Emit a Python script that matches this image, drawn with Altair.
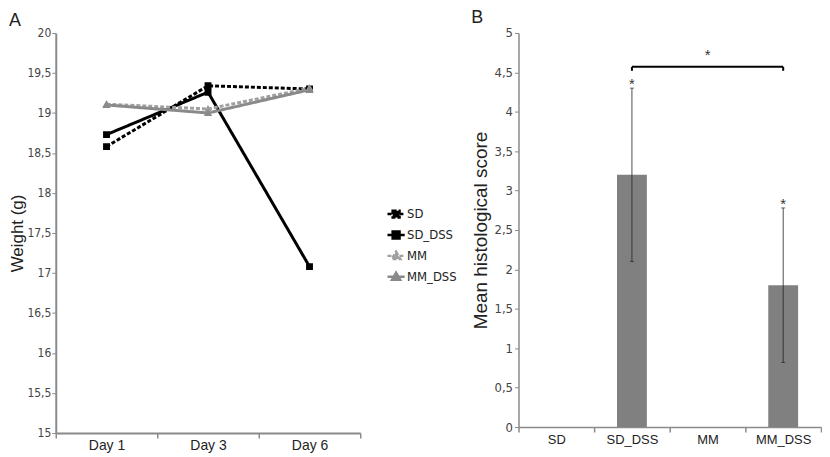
import altair as alt
import pandas as pd

# ---------------- data ----------------
days = ["Day 1", "Day 3", "Day 6"]
series_names = ["SD", "SD_DSS", "MM", "MM_DSS"]
sd = [18.58, 19.34, 19.30]
sd_dss = [18.73, 19.26, 17.08]
mm = [19.11, 19.05, 19.31]
mm_dss = [19.10, 19.00, 19.29]

groups = ["SD", "SD_DSS", "MM", "MM_DSS"]
scores = [0, 3.2, 0, 1.8]
err_low = [None, 2.1, None, 0.82]
err_high = [None, 4.3, None, 2.78]

bracket_pair = ["SD_DSS", "MM_DSS"]
bracket_mid = "MM"
bracket_level = 4.57
bracket_tip = 4.52
bracket_star = 4.72

NARROW = "Liberation Sans Narrow, DejaVu Sans Condensed, Liberation Sans, Arial, sans-serif"
SANS = "Liberation Sans, Arial, sans-serif"
AXIS_GRAY = "#8a8a8a"
COMMA_LABEL = "replace(format(datum.value, '~g'), '.', ',')"

# ---------------- left panel ----------------
rows = []
for name, vals in zip(series_names, [sd, sd_dss, mm, mm_dss]):
    for d, v in zip(days, vals):
        rows.append({"day": d, "series": name, "weight": v})
wdf = pd.DataFrame(rows)

# marker symbols: a zero-area line stroke (only visible in the stroked legend) + square / triangle
SQ_PATH = "M-1,0H1M-0.4,-0.4H0.4V0.4H-0.4Z"
TRI_PATH = "M-1,0H1M0,-0.48L0.48,0.36H-0.48Z"

color_scale = alt.Scale(domain=series_names, range=["#000000", "#000000", "#a0a0a0", "#8a8a8a"])
dash_scale = alt.Scale(domain=series_names, range=[[4, 2], [1, 0], [4, 2], [1, 0]])
shape_scale = alt.Scale(domain=series_names, range=[SQ_PATH, SQ_PATH, TRI_PATH, TRI_PATH])

legend = alt.Legend(
    title=None, orient="none", legendX=332, legendY=172,
    symbolSize=300, symbolStrokeWidth=2.5, labelFont=NARROW, labelFontSize=13,
    labelColor="#222", labelOffset=1,
)

x_left = alt.X("day:N", sort=days, title=None,
               scale=alt.Scale(type="band", domain=days, paddingInner=0, paddingOuter=0),
               axis=alt.Axis(tickBand="extent", labelAngle=0, labelFont=SANS, labelFontSize=14,
                             labelColor="#222", domainColor=AXIS_GRAY, domainWidth=2,
                             tickColor=AXIS_GRAY, tickWidth=1.5, tickSize=5, labelPadding=1))
y_left = alt.Y("weight:Q", title="Weight (g)",
               scale=alt.Scale(domain=[15, 20], nice=False, zero=False),
               axis=alt.Axis(values=[15 + 0.5 * i for i in range(11)], grid=False,
                             labelExpr=COMMA_LABEL,
                             labelFont=NARROW, labelFontSize=12, labelColor="#444",
                             domainColor=AXIS_GRAY, domainWidth=2, tickColor=AXIS_GRAY,
                             tickSize=4, labelPadding=1, titleFont=SANS, titleFontSize=17,
                             titleFontWeight="normal", titleColor="#222", titlePadding=0))

lines = alt.Chart(wdf).mark_line(strokeWidth=3).encode(
    x=x_left, y=y_left,
    color=alt.Color("series:N", scale=color_scale, legend=legend),
    strokeDash=alt.StrokeDash("series:N", scale=dash_scale, legend=legend),
)
points = alt.Chart(wdf).mark_point(filled=True, size=300, opacity=1).encode(
    x=x_left, y=y_left,
    color=alt.Color("series:N", scale=color_scale, legend=legend),
    shape=alt.Shape("series:N", scale=shape_scale, legend=legend),
)
left = alt.layer(lines, points).properties(
    width=306, height=402,
    title=alt.TitleParams("A", anchor="start", frame="bounds", fontSize=18, font=SANS,
                          fontWeight="normal", color="#222", offset=-3),
)

# ---------------- right panel ----------------
bdf = pd.DataFrame({"group": groups, "score": scores, "lo": err_low, "hi": err_high})
edf = bdf.dropna()
brdf = pd.DataFrame({"g1": [bracket_pair[0]], "g2": [bracket_pair[1]], "y": [bracket_level]})
tipdf = pd.DataFrame({"group": bracket_pair, "y": [bracket_level] * 2, "y2": [bracket_tip] * 2})
stardf = pd.DataFrame({"group": [bracket_mid], "y": [bracket_star]})

Y_TITLE = "Mean histological  score"
xs = alt.Scale(type="band", domain=groups, paddingInner=0, paddingOuter=0)
x_axis_r = alt.Axis(tickBand="extent", labelAngle=0, labelFont=SANS, labelFontSize=13,
                    labelColor="#222", domainColor=AXIS_GRAY, domainWidth=1.5,
                    tickColor=AXIS_GRAY, tickWidth=1.5, tickSize=5, labelPadding=2)
ys = alt.Scale(domain=[0, 5], nice=False)
y_axis_r = alt.Axis(values=[0.5 * i for i in range(11)], grid=False,
                    labelExpr=COMMA_LABEL,
                    labelFont=NARROW, labelFontSize=13, labelColor="#444",
                    domainColor=AXIS_GRAY, domainWidth=1.5, tickColor=AXIS_GRAY,
                    tickSize=4, labelPadding=2, titleFont=SANS, titleFontSize=19,
                    titleFontWeight="normal", titleColor="#222", titlePadding=4)


def yr(field):
    return alt.Y(field, title=Y_TITLE, scale=ys, axis=y_axis_r)


def xr(field):
    return alt.X(field, title=None, scale=xs, axis=x_axis_r)


bars = alt.Chart(bdf).mark_bar(size=30, color="#808080").encode(
    x=xr("group:N"), y=yr("score:Q"))
err = alt.Chart(edf).mark_rule(color="#222", strokeWidth=0.8).encode(
    x=xr("group:N"), y=yr("lo:Q"), y2="hi:Q")
cap_lo = alt.Chart(edf).mark_tick(color="#222", size=4, thickness=1).encode(
    x=xr("group:N"), y=yr("lo:Q"))
cap_hi = alt.Chart(edf).mark_tick(color="#222", size=4, thickness=1).encode(
    x=xr("group:N"), y=yr("hi:Q"))
stars = alt.Chart(edf).mark_text(text="*", fontSize=15, dy=-4, color="#333", font=SANS).encode(
    x=xr("group:N"), y=yr("hi:Q"))
bracket = alt.Chart(brdf).mark_rule(color="#000", strokeWidth=2).encode(
    x=xr("g1:N"), x2="g2:N", y=yr("y:Q"))
tips = alt.Chart(tipdf).mark_rule(color="#000", strokeWidth=2).encode(
    x=xr("group:N"), y=yr("y:Q"), y2="y2:Q")
bstar = alt.Chart(stardf).mark_text(text="*", fontSize=15, color="#333", font=SANS).encode(
    x=xr("group:N"), y=yr("y:Q"))

right = alt.layer(bars, err, cap_lo, cap_hi, stars, bracket, tips, bstar).properties(
    width=304, height=396,
    title=alt.TitleParams("B", anchor="start", frame="bounds", fontSize=18, font=SANS,
                          fontWeight="normal", color="#222", offset=0),
)

chart = alt.hconcat(left, right, spacing=110).configure_view(stroke=None).properties(
    padding={"left": 0, "top": 0, "right": 0, "bottom": 0})

chart.save("out.html", embed_options={"renderer": "svg", "actions": False})
